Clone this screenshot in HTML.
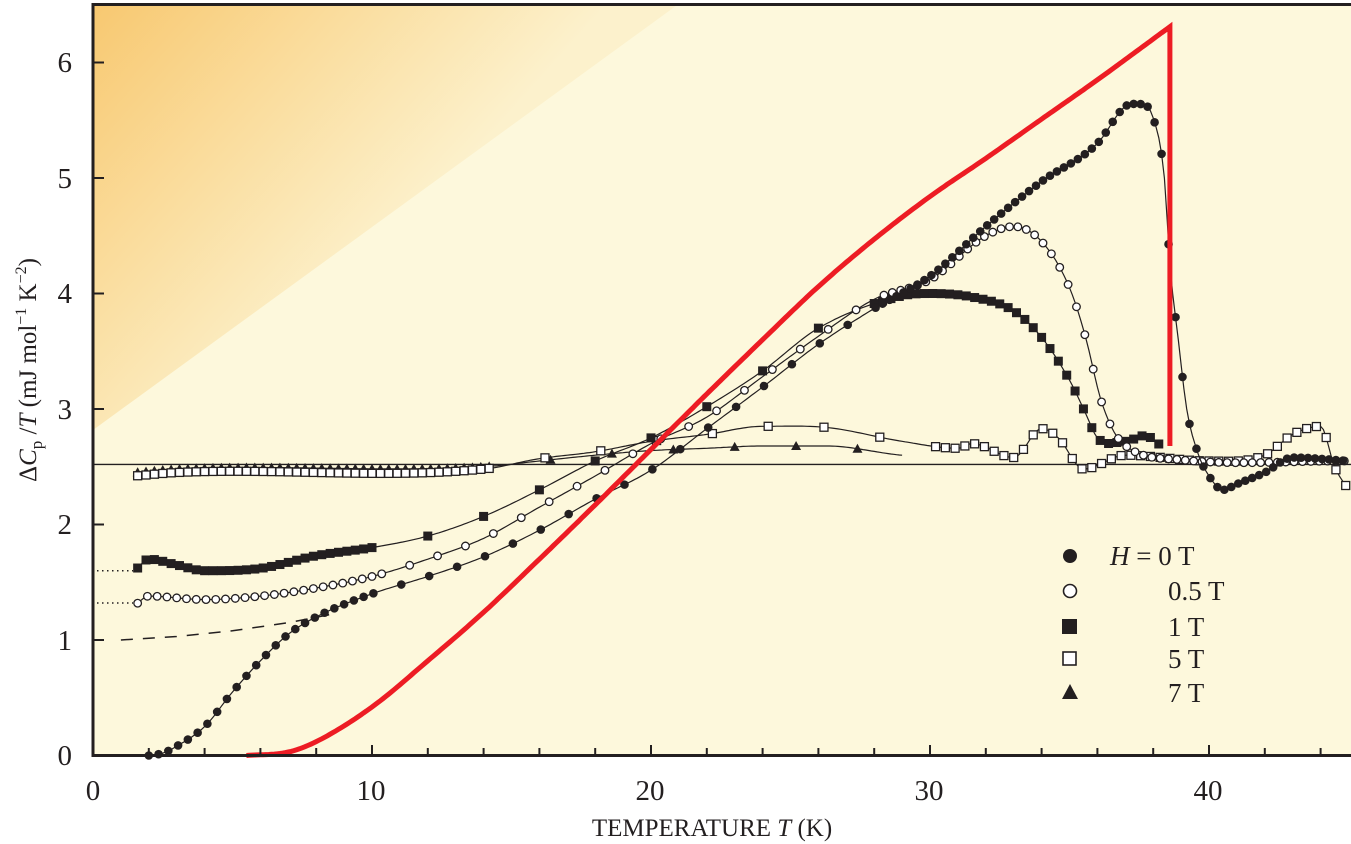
<!DOCTYPE html>
<html><head><meta charset="utf-8">
<style>
html,body{margin:0;padding:0;background:#fff;}
svg{display:block;}
text{font-family:"Liberation Serif",serif;fill:#231f20;}
</style></head>
<body>
<svg id="s" width="1351" height="844" viewBox="0 0 1351 844" xmlns="http://www.w3.org/2000/svg">
<defs>
<linearGradient id="g" x1="93" y1="3" x2="380" y2="260" gradientUnits="userSpaceOnUse">
<stop offset="0" stop-color="#f8c870"/>
<stop offset="0.5" stop-color="#fadd9e"/>
<stop offset="1" stop-color="#fcf1cc"/>
</linearGradient>
</defs>
<rect x="93" y="3" width="1258" height="753" fill="#fdf8dc"/>
<polygon points="93,3 680,3 93,430" fill="url(#g)"/>
<g id="plot"></g>
<line x1="93" y1="4.5" x2="1351" y2="4.5" stroke="#231f20" stroke-width="3"/>
<line x1="93" y1="3" x2="93" y2="757" stroke="#231f20" stroke-width="3"/>
<line x1="92" y1="755.5" x2="1351" y2="755.5" stroke="#231f20" stroke-width="3"/>
<g id="ticks"></g>
<g font-size="29">
<text x="93" y="800" text-anchor="middle">0</text>
<text x="371" y="800" text-anchor="middle">10</text>
<text x="650" y="800" text-anchor="middle">20</text>
<text x="929" y="800" text-anchor="middle">30</text>
<text x="1208" y="800" text-anchor="middle">40</text>
<text x="72" y="765" text-anchor="end">0</text>
<text x="72" y="650" text-anchor="end">1</text>
<text x="72" y="534" text-anchor="end">2</text>
<text x="72" y="419" text-anchor="end">3</text>
<text x="72" y="303" text-anchor="end">4</text>
<text x="72" y="188" text-anchor="end">5</text>
<text x="72" y="72" text-anchor="end">6</text>
</g>
<text x="712" y="836" font-size="25" text-anchor="middle">TEMPERATURE <tspan font-style="italic">T</tspan> (K)</text>
<text transform="translate(36,370) rotate(-90)" font-size="25" text-anchor="middle">Δ<tspan font-style="italic">C</tspan><tspan font-size="17" dy="6">p</tspan><tspan dy="-6"> /</tspan><tspan font-style="italic">T</tspan> (mJ mol<tspan font-size="16" dy="-10">−1</tspan><tspan dy="10"> K</tspan><tspan font-size="16" dy="-10">−2</tspan><tspan dy="10">)</tspan></text>
<g font-size="27">
<circle cx="1070" cy="556" r="7" fill="#231f20"/>
<text x="1110" y="565"><tspan font-style="italic">H</tspan> = 0 T</text>
<circle cx="1070" cy="591" r="6.5" fill="#fff" stroke="#231f20" stroke-width="1.6"/>
<text x="1168" y="600">0.5 T</text>
<rect x="1062" y="619" width="15" height="15" fill="#231f20"/>
<text x="1168" y="636">1 T</text>
<rect x="1063" y="652" width="13" height="13" fill="#fff" stroke="#231f20" stroke-width="1.6"/>
<text x="1168" y="668">5 T</text>
<polygon points="1070,684 1078,699 1062,699" fill="#231f20"/>
<text x="1168" y="702">7 T</text>
</g>
</svg>
<script>
var X=function(t){return 93+27.9*t;},Y=function(v){return 755.5-115.5*v;};
var NS="http://www.w3.org/2000/svg",P=document.getElementById('plot'),TK=document.getElementById('ticks');
function el(n,a,p){var e=document.createElementNS(NS,n);for(var k in a)e.setAttribute(k,a[k]);(p||P).appendChild(e);return e;}
function interp(pts,t){
 var n=pts.length;
 if(t<=pts[0][0])return pts[0][1];
 if(t>=pts[n-1][0])return pts[n-1][1];
 for(var i=0;i<n-1;i++){if(t>=pts[i][0]&&t<=pts[i+1][0])break;}
 var x0=pts[i][0],x1=pts[i+1][0],y0=pts[i][1],y1=pts[i+1][1],h=x1-x0;
 function slope(k){
  if(k<=0)return (pts[1][1]-pts[0][1])/(pts[1][0]-pts[0][0]);
  if(k>=n-1)return (pts[n-1][1]-pts[n-2][1])/(pts[n-1][0]-pts[n-2][0]);
  var a=(pts[k][1]-pts[k-1][1])/(pts[k][0]-pts[k-1][0]),b=(pts[k+1][1]-pts[k][1])/(pts[k+1][0]-pts[k][0]);
  if(a*b<=0)return 0; return (a+b)/2;}
 var m0=slope(i),m1=slope(i+1),s=(t-x0)/h,s2=s*s,s3=s2*s;
 return (2*s3-3*s2+1)*y0+(s3-2*s2+s)*h*m0+(-2*s3+3*s2)*y1+(s3-s2)*h*m1;
}
function path(pts,a){var d="";pts.forEach(function(p,i){d+=(i?"L":"M")+X(p[0]).toFixed(1)+","+Y(p[1]).toFixed(1);});a.d=d;a.fill="none";return el("path",a);}
for(var t=2;t<=44;t+=2){var l=(t%10==0)?10:7;el("line",{x1:X(t),x2:X(t),y1:755,y2:755-l,stroke:"#231f20","stroke-width":2},TK);}
for(var v=1;v<=6;v++){el("line",{x1:93,x2:104,y1:Y(v),y2:Y(v),stroke:"#231f20","stroke-width":2},TK);}
el("line",{x1:93,x2:1351,y1:Y(2.52),y2:Y(2.52),stroke:"#231f20","stroke-width":1.3});
el("line",{x1:97,x2:133,y1:Y(1.6),y2:Y(1.6),stroke:"#231f20","stroke-width":1.5,"stroke-dasharray":"1.5,3.5"});
el("line",{x1:97,x2:133,y1:Y(1.32),y2:Y(1.32),stroke:"#231f20","stroke-width":1.5,"stroke-dasharray":"1.5,3.5"});
path([[1,1.0],[3,1.03],[5,1.08],[7,1.15],[8.5,1.22]],{stroke:"#231f20","stroke-width":1.5,"stroke-dasharray":"12,10"});
var s0=[[2,0],[2.5,0.02],[3,0.08],[4,0.25],[5,0.55],[6,0.82],[7,1.05],[8,1.2],[10,1.4],[12,1.55],[14,1.72],[16,1.95],[18,2.22],[20,2.47],[22,2.83],[24,3.19],[26,3.56],[28,3.87],[30,4.15],[32,4.58],[34,4.97],[36,5.3],[37,5.62],[37.5,5.64],[38,5.52],[38.4,5.0],[38.6,4.25],[38.9,3.6],[39.2,3.0],[39.6,2.62],[40,2.42],[40.5,2.3],[41,2.35],[42,2.45],[43,2.58],[45,2.55]];
var s05=[[1.5,1.3],[2,1.38],[4,1.35],[6,1.38],[8,1.45],[10,1.55],[12,1.7],[14,1.88],[16,2.15],[18,2.42],[20,2.7],[22,2.93],[24,3.28],[26,3.63],[28,3.95],[30,4.12],[32,4.5],[33,4.58],[34,4.45],[35,4.05],[35.6,3.6],[36.1,3.1],[36.6,2.8],[37.2,2.65],[39,2.56],[45,2.55]];
var s1=[[1.5,1.6],[2,1.7],[3,1.65],[4,1.6],[6,1.62],[8,1.73],[10,1.8],[12,1.9],[14,2.07],[16,2.3],[18,2.55],[20,2.75],[22,3.02],[24,3.33],[26,3.7],[29,3.98],[30,4.0],[31.5,3.97],[33,3.85],[34,3.62],[35,3.25],[35.6,2.95],[36,2.75],[37,2.72],[37.7,2.77],[38.3,2.68]];
var s5=[[1.5,2.42],[3,2.45],[14,2.48],[16,2.57],[18,2.63],[20,2.72],[22,2.78],[24,2.85],[26.3,2.84],[29,2.72],[31,2.66],[31.5,2.7],[33,2.58],[34,2.83],[34.6,2.75],[35.5,2.48],[37,2.6],[40,2.55],[42,2.6],[43,2.78],[44,2.85],[44.5,2.5],[45,2.3]];
var s7=[[1.5,2.45],[3,2.48],[14,2.5],[16,2.55],[18,2.6],[20,2.64],[22,2.66],[24,2.68],[26.3,2.68],[29,2.6],[31,2.58]];
function series(pts,sp,type,t0,t1){
 var pp=[];for(var t=t0;t<=t1+1e-6;t+=sp(t)){pp.push([t,interp(pts,t)]);}
 var fine=[];for(var t=t0;t<=t1+1e-6;t+=0.1)fine.push([t,interp(pts,t)]);
 path(fine,{stroke:"#231f20","stroke-width":1.2});
 pp.forEach(function(p){var x=X(p[0]),y=Y(p[1]);
  if(type=="fc")el("circle",{cx:x,cy:y,r:4.3,fill:"#231f20"});
  else if(type=="oc")el("circle",{cx:x,cy:y,r:3.8,fill:"#fff",stroke:"#231f20","stroke-width":1.3});
  else if(type=="fs")el("rect",{x:x-4.5,y:y-4.5,width:9,height:9,fill:"#231f20"});
  else if(type=="os")el("rect",{x:x-4,y:y-4,width:8,height:8,fill:"#fff",stroke:"#231f20","stroke-width":1.3});
  else el("polygon",{points:(x)+","+(y-5)+" "+(x+5)+","+(y+4)+" "+(x-5)+","+(y+4),fill:"#231f20"});
 });
}
series(s7,function(t){return t<14?0.3:2.2;},"tr",1.6,29);
series(s5,function(t){return t<14?0.3:(t<29?2:0.35);},"os",1.6,45);
series(s1,function(t){return t<10?0.3:(t<28?2:0.3);},"fs",1.6,38.3);
series(s05,function(t){return t<10?0.35:(t<28?1:0.3);},"oc",1.6,45);
series(s0,function(t){return t<10?0.35:(t<28?1:0.25);},"fc",2,45);
var r=[[5.5,0],[7,0.03],[8,0.12],[10,0.42],[12,0.82],[14,1.24],[16,1.7],[18,2.17],[20,2.65],[22,3.13],[24,3.6],[26,4.06],[28,4.47],[30,4.84],[32,5.17],[34,5.51],[36,5.85],[38.6,6.31]];
var rr=[];for(var t=5.5;t<38.6;t+=0.1)rr.push([t,interp(r,t)]);rr.push([38.6,6.31]);rr.push([38.6,2.68]);
path(rr,{stroke:"#ed1c24","stroke-width":5,"stroke-linejoin":"miter"});
</script>
</body></html>
